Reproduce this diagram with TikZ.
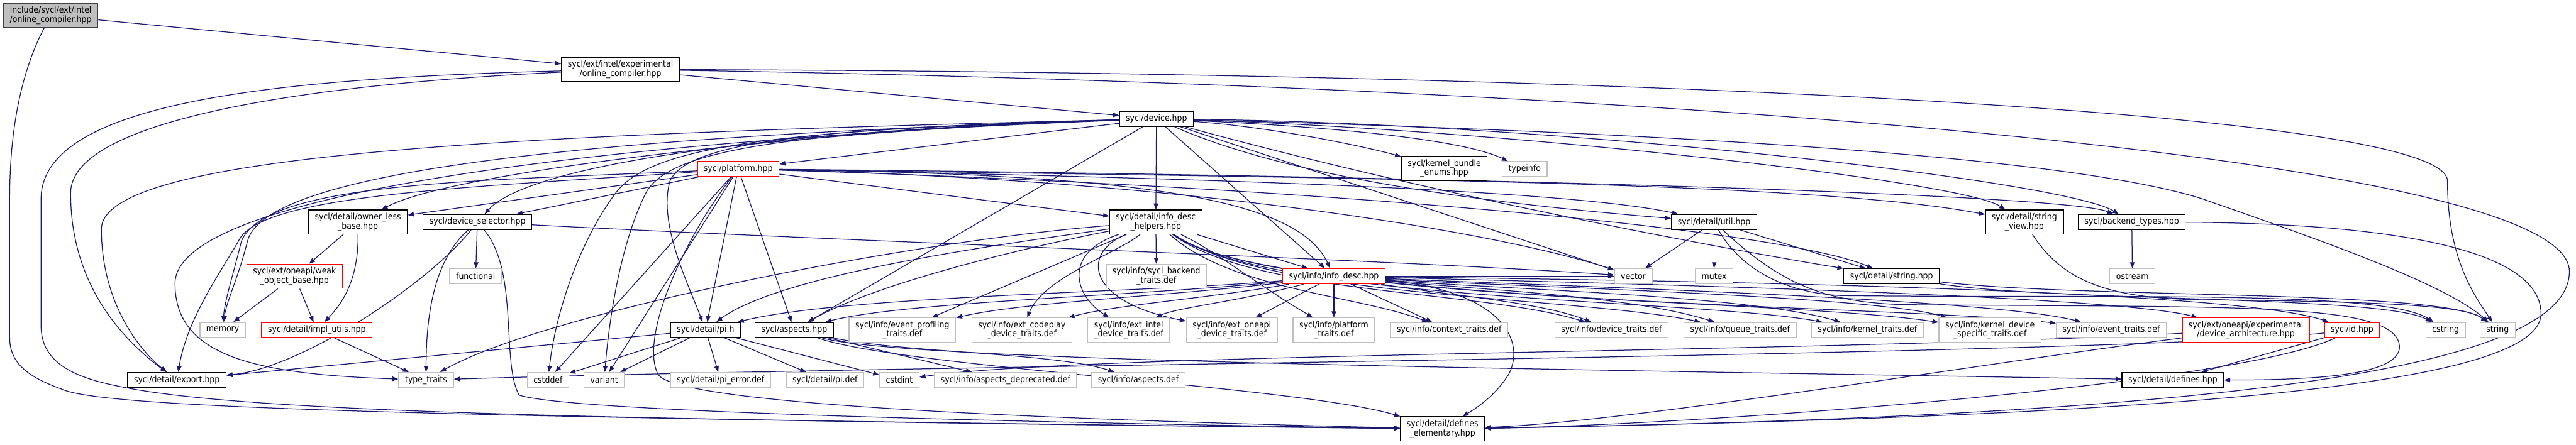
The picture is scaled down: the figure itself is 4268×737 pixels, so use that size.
\documentclass[tikz,border=0pt]{standalone}
\usepackage{fontspec}
\newfontfamily\doxyfont{DejaVu Sans}[FakeStretch=0.9]
\usetikzlibrary{arrows.meta,backgrounds}
\definecolor{edgeblue}{HTML}{191970}
\definecolor{sysgray}{HTML}{BFBFBF}
\definecolor{boxdark}{HTML}{404040}

\tikzset{
  hdr/.style={rectangle, draw=black, fill=white, line width=1.4pt, align=center,
    font=\doxyfont\fontsize{14.5}{15}\selectfont, inner xsep=10.5pt, inner ysep=5.3pt,
    minimum height=25pt},
  sys/.style={hdr, draw=sysgray},
  trunc/.style={hdr, draw=red},
  root/.style={hdr, fill=sysgray, draw=boxdark},
  dep/.style={draw=edgeblue, line width=1.3pt, -{Triangle[length=10pt,width=7.5pt]}},
}

\begin{document}
\begin{tikzpicture}[x=1pt,y=-1pt]
        \useasboundingbox (0,0) rectangle (4268,737);

        % Headers, top rows
        \node[root] (inc) at (84,25.5) {include/sycl/ext/intel\\/online\_compiler.hpp};
        \node[hdr] (expoc) at (1028,115) {sycl/ext/intel/experimental\\/online\_compiler.hpp};
        \node[hdr] (device) at (1916,197) {sycl/device.hpp};
        \node[trunc] (platform) at (1223,280) {sycl/platform.hpp};
        \node[hdr] (kbe) at (2393,279) {sycl/kernel\_bundle\\\_enums.hpp};
        \node[sys] (typeinfo) at (2526,280) {typeinfo};

        % Row of detail headers
        \node[hdr] (owner) at (593,368) {sycl/detail/owner\_less\\\_base.hpp};
        \node[hdr] (devsel) at (791,368) {sycl/device\_selector.hpp};
        \node[hdr] (idh) at (1915,368) {sycl/detail/info\_desc\\\_helpers.hpp};
        \node[hdr] (util) at (2840,368) {sycl/detail/util.hpp};
        \node[hdr] (strview) at (3354,368) {sycl/detail/string\\\_view.hpp};
        \node[hdr] (backend) at (3532,368) {sycl/backend\_types.hpp};

        \node[trunc] (weak) at (488,458) {sycl/ext/oneapi/weak\\\_object\_base.hpp};
        \node[sys] (functional) at (788,458) {functional};
        \node[sys] (sbt) at (1916,458) {sycl/info/sycl\_backend\\\_traits.def};
        \node[trunc] (infodesc) at (2210,458) {sycl/info/info\_desc.hpp};
        \node[sys] (vector) at (2706,458) {vector};
        \node[sys] (mutex) at (2840,458) {mutex};
        \node[hdr] (stringh) at (3134,458) {sycl/detail/string.hpp};
        \node[sys] (ostream) at (3533,458) {ostream};

        % Row of traits files
        \node[sys] (memory) at (369,547) {memory};
        \node[trunc] (implutils) at (525,547) {sycl/detail/impl\_utils.hpp};
        \node[hdr] (pih) at (1169,547) {sycl/detail/pi.h};
        \node[hdr] (aspects) at (1316,547) {sycl/aspects.hpp};
        \node[sys] (evprof) at (1495,547) {sycl/info/event\_profiling\\\_traits.def};
        \node[sys] (codeplay) at (1693,547) {sycl/info/ext\_codeplay\\\_device\_traits.def};
        \node[sys] (extintel) at (1870,547) {sycl/info/ext\_intel\\\_device\_traits.def};
        \node[sys] (extoneapi) at (2041,547) {sycl/info/ext\_oneapi\\\_device\_traits.def};
        \node[sys] (platformtr) at (2210,547) {sycl/info/platform\\\_traits.def};
        \node[sys] (contexttr) at (2401,547) {sycl/info/context\_traits.def};
        \node[sys] (devicetr) at (2670,547) {sycl/info/device\_traits.def};
        \node[sys] (queuetr) at (2883,547) {sycl/info/queue\_traits.def};
        \node[sys] (kerneltr) at (3094,547) {sycl/info/kernel\_traits.def};
        \node[sys] (kdst) at (3297,547) {sycl/info/kernel\_device\\\_specific\_traits.def};
        \node[sys] (eventtr) at (3498,547) {sycl/info/event\_traits.def};
        \node[trunc] (devarch) at (3721,547) {sycl/ext/oneapi/experimental\\/device\_architecture.hpp};
        \node[trunc] (id) at (3897,547) {sycl/id.hpp};
        \node[sys] (cstring) at (4052,547) {cstring};
        \node[sys] (string) at (4138,547) {string};

        % Bottom rows
        \node[hdr] (export) at (293,630) {sycl/detail/export.hpp};
        \node[sys] (typetraits) at (706,630) {type\_traits};
        \node[sys] (cstddef) at (908,630) {cstddef};
        \node[sys] (variant) at (1001,630) {variant};
        \node[sys] (pierr) at (1194,630) {sycl/detail/pi\_error.def};
        \node[sys] (pidef) at (1367,630) {sycl/detail/pi.def};
        \node[sys] (cstdint) at (1490,630) {cstdint};
        \node[sys] (aspdep) at (1666,630) {sycl/info/aspects\_deprecated.def};
        \node[sys] (aspdef) at (1886,630) {sycl/info/aspects.def};
        \node[hdr] (defines) at (3600,630) {sycl/detail/defines.hpp};
        \node[hdr] (defel) at (2390,711) {sycl/detail/defines\\\_elementary.hpp};

        \begin{pgfonlayer}{background}
        % root and experimental header
        \draw[dep] (inc) -- (expoc);
        \draw[dep] (inc) .. controls (40,110) and (16,200) .. (16,330) -- (16,560)
            .. controls (16,610) and (60,630) .. (110,648) .. controls (200,676) and (700,692) .. (defel);
        \draw[dep] (expoc) -- (device);
        \draw[dep] (expoc) .. controls (500,140) and (117,200) .. (117,320)
            .. controls (117,470) and (200,560) .. (export);
        \draw[dep] (expoc) .. controls (450,130) and (68,170) .. (68,330) -- (68,540)
            .. controls (68,600) and (120,625) .. (195,640) .. controls (400,684) and (1000,696) .. (defel);
        \draw[dep] (expoc) .. controls (2600,120) and (4055,180) .. (4055,300)
            .. controls (4055,430) and (4100,490) .. (string);
        \draw[dep] (expoc) .. controls (2600,140) and (4257,250) .. (4257,450)
            .. controls (4257,610) and (3700,690) .. (defel);

        % sycl/device.hpp
        \draw[dep] (device) -- (platform);
        \draw[dep] (device) .. controls (1400,212) and (760,280) .. (owner);
        \draw[dep] (device) .. controls (1300,215) and (880,270) .. (devsel);
        \draw[dep] (device) -- (idh);
        \draw[dep] (device) .. controls (2100,210) and (2250,240) .. (kbe);
        \draw[dep] (device) .. controls (2200,210) and (2420,230) .. (typeinfo);
        \draw[dep] (device) .. controls (2150,300) and (2500,340) .. (util);
        \draw[dep] (device) .. controls (2500,215) and (3250,300) .. (strview);
        \draw[dep] (device) .. controls (2600,205) and (3420,300) .. (backend);
        \draw[dep] (device) -- (infodesc);
        \draw[dep] (device) -- (vector);
        \draw[dep] (device) .. controls (2400,330) and (2900,420) .. (stringh);
        \draw[dep] (device) .. controls (1000,225) and (440,280) .. (410,400)
            .. controls (395,460) and (375,500) .. (memory);
        \draw[dep] (device) .. controls (1350,212) and (1140,235) .. (1110,300)
            .. controls (1090,370) and (1140,470) .. (pih);
        \draw[dep] (device) -- (aspects);
        \draw[dep] (device) .. controls (900,222) and (168,250) .. (168,380)
            .. controls (168,500) and (230,580) .. (export);
        \draw[dep] (device) .. controls (1000,232) and (290,320) .. (290,470)
            .. controls (290,590) and (420,620) .. (typetraits);
        \draw[dep] (device) .. controls (1300,215) and (1080,240) .. (1020,320)
            .. controls (960,400) and (920,520) .. (cstddef);
        \draw[dep] (device) .. controls (1320,218) and (1110,245) .. (1070,320)
            .. controls (1030,400) and (1010,520) .. (variant);
        \draw[dep] (device) .. controls (2600,215) and (3400,250) .. (3650,330)
            .. controls (3850,400) and (4050,470) .. (string);

        % sycl/platform.hpp
        \draw[dep] (platform) -- (owner);
        \draw[dep] (platform) -- (devsel);
        \draw[dep] (platform) -- (idh);
        \draw[dep] (platform) .. controls (1900,290) and (2150,330) .. (infodesc);
        \draw[dep] (platform) .. controls (2000,295) and (2600,315) .. (util);
        \draw[dep] (platform) .. controls (2200,295) and (3000,300) .. (strview);
        \draw[dep] (platform) .. controls (2300,290) and (3420,320) .. (backend);
        \draw[dep] (platform) .. controls (2000,300) and (2500,390) .. (vector);
        \draw[dep] (platform) .. controls (2200,310) and (2950,380) .. (stringh);
        \draw[dep] (platform) .. controls (800,300) and (440,300) .. (400,400)
            .. controls (385,460) and (372,500) .. (memory);
        \draw[dep] (platform) .. controls (800,310) and (430,320) .. (395,400)
            .. controls (360,460) and (310,530) .. (export);
        \draw[dep] (platform) -- (cstddef);
        \draw[dep] (platform) -- (variant);
        \draw[dep] (platform) -- (pih);
        \draw[dep] (platform) -- (aspects);
        \draw[dep] (platform) .. controls (1130,400) and (1060,560) .. (1090,620)
            .. controls (1110,660) and (1500,690) .. (defel);

        % owner_less_base, weak_object_base, impl_utils
        \draw[dep] (owner) -- (weak);
        \draw[dep] (owner) .. controls (594,460) and (570,500) .. (implutils);
        \draw[dep] (weak) -- (memory);
        \draw[dep] (weak) -- (implutils);
        \draw[dep] (implutils) -- (typetraits);

        % device_selector
        \draw[dep] (devsel) .. controls (710,470) and (500,610) .. (export);
        \draw[dep] (devsel) -- (functional);
        \draw[dep] (devsel) .. controls (720,430) and (706,520) .. (typetraits);
        \draw[dep] (devsel) .. controls (860,450) and (830,600) .. (860,655)
            .. controls (950,685) and (1800,702) .. (defel);
        \draw[dep] (devsel) .. controls (1400,400) and (2300,430) .. (vector);

        % info_desc_helpers
        \draw[dep] (idh) -- (infodesc);
        \draw[dep] (idh) .. controls (1700,400) and (1300,450) .. (pih);
        \draw[dep] (idh) .. controls (1700,410) and (1450,470) .. (aspects);
        \draw[dep] (idh) .. controls (1500,400) and (900,520) .. (typetraits);
        \draw[dep] (idh) -- (sbt);
        \draw[dep] (idh) -- (evprof);
        \draw[dep] (idh) .. controls (1850,420) and (1730,460) .. (codeplay);
        \draw[dep] (idh) .. controls (1760,420) and (1780,490) .. (extintel);
        \draw[dep] (idh) .. controls (1790,420) and (1800,500) .. (extoneapi);
        \draw[dep] (idh) .. controls (2020,420) and (2080,470) .. (platformtr);
        \draw[dep] (idh) .. controls (2040,480) and (2250,490) .. (contexttr);
        \draw[dep] (idh) .. controls (2080,490) and (2450,480) .. (devicetr);
        \draw[dep] (idh) .. controls (2100,495) and (2600,490) .. (queuetr);
        \draw[dep] (idh) .. controls (2100,500) and (2800,495) .. (kerneltr);
        \draw[dep] (idh) .. controls (2100,500) and (2950,495) .. (kdst);
        \draw[dep] (idh) .. controls (2100,505) and (3150,505) .. (eventtr);

        % info_desc
        \draw[dep] (infodesc) -- (vector);
        \draw[dep] (infodesc) .. controls (1900,485) and (1400,490) .. (pih);
        \draw[dep] (infodesc) .. controls (1900,490) and (1500,500) .. (aspects);
        \draw[dep] (infodesc) .. controls (1950,490) and (1700,500) .. (evprof);
        \draw[dep] (infodesc) .. controls (2000,495) and (1850,505) .. (codeplay);
        \draw[dep] (infodesc) .. controls (2050,500) and (1950,510) .. (extintel);
        \draw[dep] (infodesc) -- (extoneapi);
        \draw[dep] (infodesc) -- (platformtr);
        \draw[dep] (infodesc) -- (contexttr);
        \draw[dep] (infodesc) .. controls (2400,490) and (2550,500) .. (devicetr);
        \draw[dep] (infodesc) .. controls (2450,480) and (2700,490) .. (queuetr);
        \draw[dep] (infodesc) .. controls (2500,480) and (2900,490) .. (kerneltr);
        \draw[dep] (infodesc) .. controls (2500,475) and (3100,490) .. (kdst);
        \draw[dep] (infodesc) .. controls (2600,475) and (3300,495) .. (eventtr);
        \draw[dep] (infodesc) .. controls (2700,470) and (3500,490) .. (devarch);
        \draw[dep] (infodesc) .. controls (2800,465) and (3700,480) .. (id);
        \draw[dep] (infodesc) .. controls (2480,480) and (2530,560) .. (2500,620)
            .. controls (2475,660) and (2440,680) .. (defel);

        % util, string, string_view, backend_types
        \draw[dep] (util) -- (vector);
        \draw[dep] (util) -- (mutex);
        \draw[dep] (util) -- (stringh);
        \draw[dep] (util) .. controls (2880,440) and (2950,485) .. (3050,490)
            .. controls (3500,495) and (3950,480) .. (cstring);
        \draw[dep] (util) .. controls (2950,470) and (3020,500) .. (3150,505)
            .. controls (3700,510) and (3960,500) .. (3975,570)
            .. controls (3985,620) and (3850,630) .. (defines);
        \draw[dep] (stringh) .. controls (3400,500) and (3950,490) .. (cstring);
        \draw[dep] (stringh) .. controls (3450,495) and (4050,480) .. (string);
        \draw[dep] (strview) .. controls (3420,470) and (3500,495) .. (3650,497)
            .. controls (4000,500) and (4090,510) .. (string);
        \draw[dep] (backend) -- (ostream);
        \draw[dep] (backend) .. controls (3900,370) and (4210,400) .. (4210,520)
            .. controls (4210,640) and (3600,690) .. (defel);

        % pi.h and aspects
        \draw[dep] (pih) -- (export);
        \draw[dep] (pih) -- (cstddef);
        \draw[dep] (pih) -- (variant);
        \draw[dep] (pih) -- (pierr);
        \draw[dep] (pih) -- (pidef);
        \draw[dep] (pih) -- (cstdint);
        \draw[dep] (aspects) -- (aspdep);
        \draw[dep] (aspects) .. controls (1500,585) and (1750,585) .. (aspdef);
        \draw[dep] (aspects) .. controls (1500,600) and (2600,612) .. (defines);
        \draw[dep] (aspects) .. controls (1500,610) and (2150,640) .. (defel);

        % device_architecture and id
        \draw[dep] (devarch) .. controls (3000,585) and (1800,585) .. (cstdint);
        \draw[dep] (devarch) .. controls (3300,600) and (2700,700) .. (defel);
        \draw[dep] (id) -- (defines);
        \draw[dep] (id) .. controls (3700,640) and (2800,705) .. (defel);
        \draw[dep] (id) .. controls (3500,590) and (1500,605) .. (typetraits);
        \end{pgfonlayer}

\end{tikzpicture}
\end{document}
